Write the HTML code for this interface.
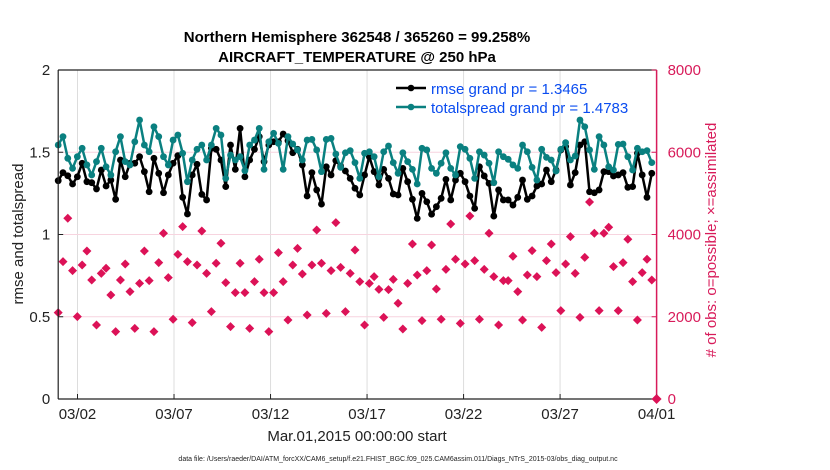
<!DOCTYPE html>
<html><head><meta charset="utf-8"><style>
body{margin:0;background:#fff;width:830px;height:470px;overflow:hidden}
svg{display:block;font-family:"Liberation Sans",Arial,sans-serif}
</style></head><body>
<svg id="chart" width="830" height="470">
<g id="grid"></g>
<g id="marks"></g>
<g id="axes"></g>
<text x="357" y="42" text-anchor="middle" font-size="15" font-weight="bold">Northern Hemisphere 362548 / 365260 = 99.258%</text>
<text x="357" y="62" text-anchor="middle" font-size="15" font-weight="bold">AIRCRAFT_TEMPERATURE @ 250 hPa</text>
<text x="357" y="441" text-anchor="middle" font-size="15" fill="#222">Mar.01,2015 00:00:00 start</text>
<text transform="translate(23,234) rotate(-90)" text-anchor="middle" font-size="15" fill="#222">rmse and totalspread</text>
<text transform="translate(716,240) rotate(-90)" text-anchor="middle" font-size="15" fill="#d81b5a"># of obs: o=possible; ×=assimilated</text>
<text x="398" y="461" text-anchor="middle" font-size="7" fill="#222">data file: /Users/raeder/DAI/ATM_forcXX/CAM6_setup/f.e21.FHIST_BGC.f09_025.CAM6assim.011/Diags_NTrS_2015-03/obs_diag_output.nc</text>
<g>
<line x1="396" y1="88" x2="426" y2="88" stroke="#000" stroke-width="2.5"/><circle cx="411" cy="88" r="3.3" fill="#000"/>
<text x="431" y="94" font-size="15" fill="#0a4cf0">rmse grand pr = 1.3465</text>
<line x1="396" y1="107" x2="426" y2="107" stroke="#0a8080" stroke-width="2.5"/><circle cx="411" cy="107" r="3.3" fill="#0a8080"/>
<text x="431" y="113" font-size="15" fill="#0a4cf0">totalspread grand pr = 1.4783</text>
</g>
</svg>
<script>
const rmse=[1.327,1.376,1.357,1.307,1.351,1.433,1.321,1.315,1.277,1.392,1.295,1.331,1.214,1.453,1.351,1.433,1.433,1.473,1.382,1.260,1.463,1.372,1.254,1.362,1.433,1.479,1.226,1.125,1.362,1.427,1.244,1.210,
1.524,1.518,1.453,1.291,1.544,1.396,1.645,1.351,1.453,1.518,1.595,1.443,1.544,1.564,1.564,1.611,1.570,1.497,1.518,1.423,1.234,1.376,1.271,1.185,1.412,1.362,1.449,1.416,1.386,1.341,1.281,
1.240,1.362,1.473,1.382,1.301,1.396,1.341,1.246,1.240,1.402,1.321,1.214,1.098,1.250,1.199,1.123,1.169,1.220,1.335,1.210,1.331,1.372,1.321,1.234,1.159,1.412,1.356,1.311,1.112,1.271,1.210,
1.210,1.179,1.226,1.331,1.214,1.234,1.295,1.307,1.392,1.321,1.392,1.514,1.534,1.301,1.376,1.544,1.564,1.260,1.254,1.271,1.382,1.382,1.356,1.362,1.376,1.287,1.291,1.494,1.362,1.226,1.372];
const spread=[1.544,1.595,1.463,1.402,1.473,1.524,1.423,1.362,1.443,1.524,1.412,1.362,1.503,1.595,1.443,1.423,1.564,1.696,1.544,1.503,1.655,1.595,1.473,1.423,1.574,1.605,1.494,1.321,1.453,1.518,1.544,1.453,
1.544,1.645,1.605,1.341,1.483,1.453,1.473,1.388,1.544,1.574,1.645,1.396,1.564,1.615,1.554,1.396,1.595,1.550,1.514,1.453,1.574,1.578,1.514,1.382,1.578,1.584,1.489,1.408,1.497,1.510,1.437,
1.341,1.494,1.503,1.473,1.351,1.503,1.538,1.437,1.372,1.497,1.443,1.396,1.307,1.524,1.514,1.402,1.372,1.433,1.497,1.402,1.362,1.534,1.518,1.463,1.341,1.503,1.483,1.433,1.315,1.503,1.473,
1.457,1.423,1.402,1.544,1.503,1.408,1.331,1.518,1.469,1.453,1.386,1.518,1.558,1.453,1.477,1.696,1.655,1.514,1.396,1.595,1.544,1.412,1.392,1.548,1.550,1.473,1.392,1.524,1.503,1.510,1.437];
const nobs=[2100,3340,4394,3121,2002,3259,3599,2894,1800,3056,3178,2529,1638,2894,3283,2610,1718,2813,3599,2878,1638,3316,4029,2951,1938,3518,4191,3340,1856,3259,4086,3056,
2124,3300,3786,2829,1759,2586,3300,2586,1718,2854,3397,2586,1638,2586,3559,2854,1921,3259,3664,3040,2043,3259,4110,3300,2083,3121,4289,3202,2124,3056,3624,
2854,1800,2813,2975,2667,1986,2659,2910,2327,1702,2813,3770,3016,1905,3121,3745,2675,1938,3153,4256,3397,1840,3283,4451,3365,1938,3153,4029,2975,1800,2878,
2878,3470,2610,1921,3016,3607,2975,1743,3365,3770,3073,2148,3283,3948,3056,1986,3445,4791,4029,2148,4029,4175,3218,2148,3316,3883,2854,1921,3073,3397,2894];
const dayTicks=["03/02","03/07","03/12","03/17","03/22","03/27","04/01"];
const dayTickPos=[1,6,11,16,21,26,31];
const leftTicks=[0,0.5,1,1.5,2];
const rightTicks=[0,2000,4000,6000,8000];
const lastDay=30.75;

const NS="http://www.w3.org/2000/svg";
const X0=58.2,X1=656.6,Y0=399,Y1=70;
const xDay=d=>X0+(X1-X0)*d/31;
const xIdx=i=>xDay(i*lastDay/(rmse.length-1));
const yL=v=>Y0-(Y0-Y1)*v/2;
const yR=v=>Y0-(Y0-Y1)*v/8000;
function mk(tag,attrs,parent){const e=document.createElementNS(NS,tag);for(const k in attrs)e.setAttribute(k,attrs[k]);parent.appendChild(e);return e;}
const grid=document.getElementById('grid'),marks=document.getElementById('marks'),axes=document.getElementById('axes');
dayTickPos.forEach((d,k)=>{const g=mk('line',{x1:xDay(d),x2:xDay(d),y1:Y1,y2:Y0,stroke:'#ddd','stroke-width':1},grid);

});
rightTicks.slice(1,4).forEach(v=>{const g=mk('line',{x1:X0,x2:X1,y1:yR(v),y2:yR(v),stroke:'#f7d4df','stroke-width':1},grid);

});
nobs.forEach((v,i)=>{const x=xIdx(i),y=yR(v);
const p=mk('path',{d:`M${x} ${y-4.5}L${x+4.5} ${y}L${x} ${y+4.5}L${x-4.5} ${y}Z`,fill:'#dc1257'},marks);

});
function series(vals,color,name){
const pts=vals.map((v,i)=>xIdx(i).toFixed(1)+','+yL(v).toFixed(1)).join(' ');
const l=mk('polyline',{points:pts,fill:'none',stroke:color,'stroke-width':2.5,'stroke-linejoin':'round'},marks);


vals.forEach((v,i)=>{const c=mk('circle',{cx:xIdx(i),cy:yL(v),r:3.4,fill:color},marks);

});}
series(rmse,'#000','rmse');
series(spread,'#0a8080','totalspread');
mk('line',{x1:X0,x2:X0,y1:Y1,y2:Y0,stroke:'#222','stroke-width':1.2},axes);
mk('line',{x1:X0,x2:X1,y1:Y0,y2:Y0,stroke:'#222','stroke-width':1.2},axes);
mk('line',{x1:X0,x2:X1,y1:Y1,y2:Y1,stroke:'#222','stroke-width':1.2},axes);
mk('line',{x1:X1,x2:X1,y1:Y1,y2:Y0,stroke:'#d81b5a','stroke-width':1.5},axes);
leftTicks.forEach(v=>{mk('line',{x1:X0,x2:X0+5,y1:yL(v),y2:yL(v),stroke:'#222'},axes);
const t=mk('text',{x:X0-8,y:yL(v)+5,'text-anchor':'end','font-size':15,fill:'#222'},axes);t.textContent=v;

});
rightTicks.forEach(v=>{mk('line',{x1:X1-5,x2:X1,y1:yR(v),y2:yR(v),stroke:'#d81b5a'},axes);
const t=mk('text',{x:X1+11,y:yR(v)+5,'font-size':15,fill:'#d81b5a'},axes);t.textContent=v;

});
dayTicks.forEach((s,k)=>{const x=xDay(dayTickPos[k]);mk('line',{x1:x,x2:x,y1:Y0-5,y2:Y0,stroke:'#222'},axes);
const t=mk('text',{x:x,y:Y0+20,'text-anchor':'middle','font-size':15,fill:'#222'},axes);t.textContent=s;

});
const m=mk('path',{d:`M${X1} ${Y0-5}L${X1+5} ${Y0}L${X1} ${Y0+5}L${X1-5} ${Y0}Z`,fill:'#dc1257'},axes);


</script>
</body></html>
